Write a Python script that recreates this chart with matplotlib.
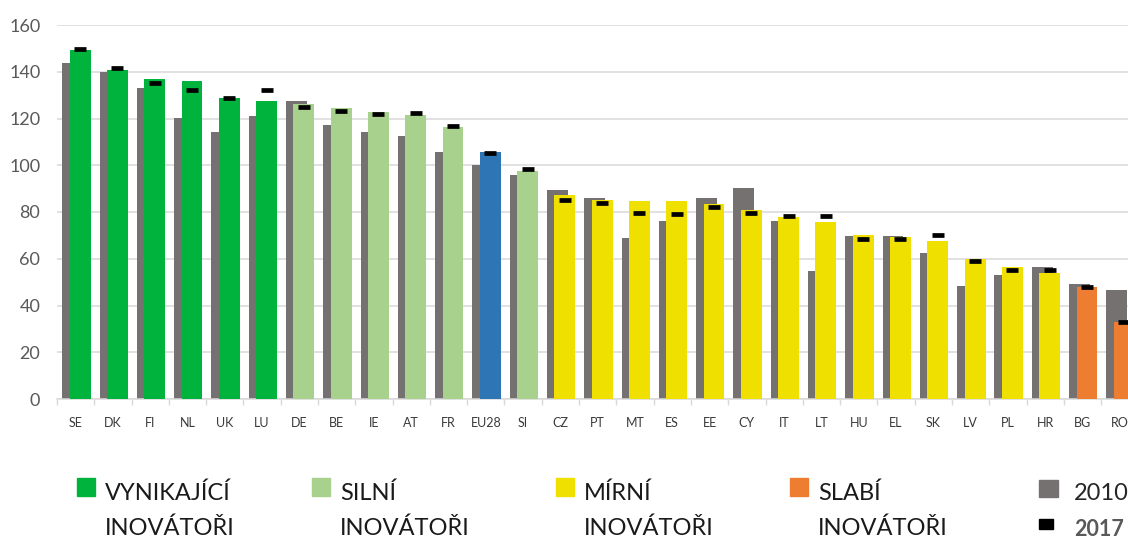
import matplotlib
matplotlib.use("Agg")
import matplotlib.pyplot as plt
from matplotlib.patches import Rectangle
import numpy as np

# data
countries = ['SE', 'DK', 'FI', 'NL', 'UK', 'LU', 'DE', 'BE', 'IE', 'AT', 'FR', 'EU28', 'SI',
             'CZ', 'PT', 'MT', 'ES', 'EE', 'CY', 'IT', 'LT', 'HU', 'EL', 'SK', 'LV', 'PL',
             'HR', 'BG', 'RO']
groups = ['lead'] * 6 + ['strong'] * 5 + ['eu'] + ['strong'] + ['moderate'] * 14 + ['modest'] * 2
v2010 = [143.6, 139.7, 133.2, 120.1, 114.4, 121.2, 127.6, 117.4, 114.1, 112.6, 105.5, 100.0, 95.8,
         89.5, 86.2, 69.0, 76.0, 86.2, 90.4, 76.1, 54.8, 69.9, 69.9, 62.6, 48.5, 53.2,
         56.3, 49.1, 46.8]
v2018 = [149.3, 140.7, 136.8, 136.0, 128.8, 127.6, 126.3, 124.5, 122.6, 121.5, 116.2, 105.5, 97.7,
         87.4, 85.1, 84.5, 84.5, 83.3, 80.8, 77.9, 75.6, 70.0, 69.4, 67.8, 59.9, 56.3,
         53.9, 48.1, 33.1]
v2017 = [149.6, 141.5, 135.2, 132.0, 128.9, 132.0, 124.8, 123.2, 121.8, 122.5, 116.9, 105.1, 98.6,
         85.3, 83.7, 79.7, 79.0, 82.1, 79.7, 78.1, 78.1, 68.6, 68.6, 70.2, 59.2, 55.2,
         55.2, 48.1, 32.9]

legend_groups = ['lead', 'strong', 'moderate', 'modest']
legend_line1 = ['VYNIKAJÍCÍ', 'SILNÍ', 'MÍRNÍ', 'SLABÍ']
legend_line2 = ['INOVÁTOŘI', 'INOVÁTOŘI', 'INOVÁTOŘI', 'INOVÁTOŘI']

colors = {'lead': '#00b33c', 'strong': '#a9d18e', 'eu': '#2e75b6',
          'moderate': '#f0e000', 'modest': '#ed7d31'}
gray = '#767171'

W, H = 1128, 538
fig = plt.figure(figsize=(W / 100, H / 100), dpi=100)
ax = fig.add_axes([57 / W, 1 - 399 / H, 1 - 57 / W, (399 - 25) / H])

x = np.arange(len(countries))
bw = 0.56
ax.bar(x - 0.08, v2010, width=bw, color=gray, zorder=2)
ax.bar(x + 0.12, v2018, width=bw, color=[colors[g] for g in groups], zorder=3)
ax.plot(x + 0.12, v2017, linestyle='none', marker='_', markersize=9,
        markeredgewidth=3.4, color='black', zorder=4)

ax.set_yticks(range(0, 161, 20))
ax.yaxis.grid(True, color='#d9d9d9', linewidth=1.1, zorder=0)
ax.set_axisbelow(True)

for s in ['top', 'right', 'left']:
    ax.spines[s].set_visible(False)
ax.spines['bottom'].set_color('#d9d9d9')
ax.spines['bottom'].set_linewidth(1.1)

ax.set_xticks(x)
ax.set_xticklabels(countries, fontsize=9, color='#3a3a3a', family='Lato')
ax.set_xticks(np.arange(len(countries) + 1) - 0.5, minor=True)
ax.tick_params(axis='x', which='major', length=0, pad=13)
ax.tick_params(axis='x', which='minor', length=4, color='#d9d9d9', width=1)
ax.tick_params(axis='y', length=0, pad=12, labelsize=13, labelcolor='#595959')
for lbl in ax.get_yticklabels():
    lbl.set_family('Lato')

# limits after the ticks, so set_xticks does not widen the view
ax.set_xlim(-0.5, -0.5 + (W - 57) / 37.29)
ax.set_ylim(0, 160)

# legend drawn in figure coordinates
leg_x = [77, 312, 556, 790]
leg_font = 'Lato'
for i, g in enumerate(legend_groups):
    fig.patches.append(Rectangle((leg_x[i] / W, 1 - 496 / H), 18 / W, 18 / H,
                                 transform=fig.transFigure, color=colors[g]))
    fig.text((leg_x[i] + 28) / W, 1 - 500 / H, legend_line1[i], fontsize=17,
             color='#1a1a1a', family=leg_font, va='baseline')
    fig.text((leg_x[i] + 28) / W, 1 - 535 / H, legend_line2[i], fontsize=17,
             color='#1a1a1a', family=leg_font, va='baseline')

fig.patches.append(Rectangle((1039 / W, 1 - 497 / H), 19 / W, 17 / H,
                             transform=fig.transFigure, color=gray))
fig.text(1074 / W, 1 - 500 / H, '2010', fontsize=17, color='#262626',
         family=leg_font, va='baseline')
fig.patches.append(Rectangle((1039 / W, 1 - 529 / H), 14 / W, 10 / H,
                             transform=fig.transFigure, color='black'))
fig.text(1074 / W, 1 - 536 / H, '2017', fontsize=15.5, color='#595959',
         family=leg_font, fontweight='bold', va='baseline')

fig.savefig('out.png', dpi=100)
